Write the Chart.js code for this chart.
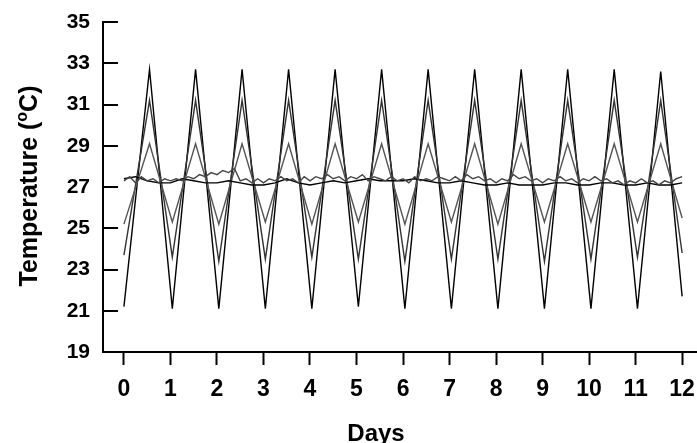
<!DOCTYPE html>
<html lang="en">
<head>
<meta charset="utf-8">
<title>Temperature over days</title>
<script src="https://cdn.jsdelivr.net/npm/chart.js"></script>
<style>
html, body { margin: 0; padding: 0; background: #fff; }
#chart { display: block; }
</style>
</head>
<body>
<canvas id="chart" width="697" height="443"></canvas>
<script>
// data
const dayTicks = [0, 1, 2, 3, 4, 5, 6, 7, 8, 9, 10, 11, 12];
const tempTicks = [19, 21, 23, 25, 27, 29, 31, 33, 35];

// turning points (troughs / peaks) of the three cycling series
const turnDays = [0, 0.55, 1.04, 1.54, 2.04, 2.54, 3.04, 3.54, 4.04, 4.54, 5.04, 5.54, 6.04,
  6.54, 7.04, 7.54, 8.04, 8.54, 9.04, 9.54, 10.04, 10.54, 11.04, 11.54, 12];
const bigTemps = [21.2, 32.7, 21.1, 32.7, 21.1, 32.7, 21.1, 32.7, 21.1, 32.7, 21.2, 32.7, 21.1,
  32.7, 21.1, 32.7, 21.1, 32.7, 21.1, 32.7, 21.1, 32.7, 21.1, 32.6, 21.7];
const midTemps = [23.7, 31.2, 23.6, 31.2, 23.4, 31.2, 23.5, 31.2, 23.6, 31.2, 23.5, 31.2, 23.4,
  31.2, 23.5, 31.2, 23.5, 31.2, 23.4, 31.2, 23.5, 31.2, 23.6, 31.2, 23.8];
const smallTemps = [25.2, 29.1, 25.3, 29.1, 25.2, 29.1, 25.3, 29.1, 25.2, 29.1, 25.3, 29.1, 25.2,
  29.1, 25.3, 29.1, 25.2, 29.1, 25.3, 29.1, 25.3, 29.1, 25.3, 29.1, 25.5];

// noisy near-constant series, every 3 hours
const noisyDays = [];
for (let i = 0; i <= 96; i++) noisyDays.push(i / 8);
const noisyTemps = [
  27.3, 27.5, 27.2, 27.5, 27.3, 27.4, 27.2, 27.4,
  27.3, 27.4, 27.3, 27.5, 27.4, 27.6, 27.5, 27.7,
  27.6, 27.8, 27.7, 27.9, 27.3, 27.4, 27.2, 27.4,
  27.2, 27.4, 27.3, 27.5, 27.3, 27.4, 27.2, 27.5,
  27.3, 27.5, 27.4, 27.6, 27.4, 27.5, 27.3, 27.5,
  27.4, 27.6, 27.3, 27.5, 27.4, 27.3, 27.5, 27.3,
  27.4, 27.2, 27.5, 27.3, 27.4, 27.3, 27.5, 27.4,
  27.3, 27.5, 27.3, 27.6, 27.4, 27.5, 27.3, 27.4,
  27.2, 27.4, 27.3, 27.6, 27.4, 27.5, 27.3, 27.4,
  27.2, 27.4, 27.3, 27.5, 27.3, 27.4, 27.2, 27.4,
  27.3, 27.5, 27.3, 27.4, 27.2, 27.3, 27.1, 27.3,
  27.2, 27.4, 27.2, 27.3, 27.1, 27.3, 27.2, 27.4,
  27.5];

// smoother near-constant series, every 6 hours
const smoothDays = [];
for (let i = 0; i <= 48; i++) smoothDays.push(i / 4);
const smoothTemps = [
  27.4, 27.5, 27.3, 27.2,
  27.2, 27.4, 27.3, 27.2,
  27.2, 27.3, 27.2, 27.1,
  27.1, 27.2, 27.4, 27.2,
  27.1, 27.2, 27.3, 27.2,
  27.3, 27.4, 27.3, 27.3,
  27.3, 27.4, 27.3, 27.2,
  27.2, 27.3, 27.2, 27.1,
  27.1, 27.2, 27.1, 27.1,
  27.1, 27.2, 27.2, 27.1,
  27.1, 27.2, 27.2, 27.1,
  27.1, 27.2, 27.1, 27.1,
  27.2];

const FONT = '"Liberation Sans", Arial, sans-serif';

function pts(xs, ys) { return xs.map((x, i) => ({ x: x, y: ys[i] })); }

function line(data, color) {
  return { data: data, borderColor: color, borderWidth: 1.4, pointRadius: 0, tension: 0, fill: false };
}

// y tick marks point into the plot, titles drawn by hand (superscript o)
const extras = {
  id: 'extras',
  afterDraw(chart) {
    const ctx = chart.ctx;
    const y = chart.scales.y;
    const left = chart.chartArea.left;
    ctx.save();
    ctx.strokeStyle = '#000';
    ctx.lineWidth = 2;
    tempTicks.forEach(t => {
      const py = Math.round(y.getPixelForValue(t));
      ctx.beginPath();
      ctx.moveTo(left, py);
      ctx.lineTo(left + 15, py);
      ctx.stroke();
    });

    ctx.fillStyle = '#000';
    ctx.textBaseline = 'alphabetic';
    ctx.font = 'bold 24px ' + FONT;
    ctx.textAlign = 'center';
    ctx.fillText('Days', 376, 441);

    // rotated y title
    const big = 'bold 25px ' + FONT;
    const sup = 'bold 16px ' + FONT;
    ctx.font = big;
    const w1 = ctx.measureText('Temperature (').width;
    const w3 = ctx.measureText('C)').width;
    ctx.font = sup;
    const w2 = ctx.measureText('o').width;
    const total = w1 + w2 + w3;
    ctx.translate(37, 186);
    ctx.rotate(-Math.PI / 2);
    ctx.textAlign = 'left';
    let x = -total / 2;
    ctx.font = big;
    ctx.fillText('Temperature (', x, 0);
    x += w1;
    ctx.font = sup;
    ctx.fillText('o', x, -10);
    x += w2;
    ctx.font = big;
    ctx.fillText('C)', x, 0);
    ctx.restore();
  }
};

new Chart(document.getElementById('chart'), {
  type: 'line',
  data: {
    datasets: [
      line(pts(noisyDays, noisyTemps), '#444'),
      line(pts(smoothDays, smoothTemps), '#000'),
      line(pts(turnDays, smallTemps), '#555'),
      line(pts(turnDays, midTemps), '#333'),
      line(pts(turnDays, bigTemps), '#000')
    ]
  },
  options: {
    responsive: false,
    animation: false,
    devicePixelRatio: 1,
    layout: { padding: { top: 22, left: 0, right: 0, bottom: 0 } },
    plugins: { legend: { display: false }, tooltip: { enabled: false } },
    scales: {
      x: {
        type: 'linear',
        min: -0.45,
        max: 12.32,
        afterBuildTicks: s => { s.ticks = dayTicks.map(v => ({ value: v })); },
        afterFit: s => { s.height = 91; s.paddingLeft = 0; s.paddingRight = 0; },
        border: { display: true, color: '#000', width: 2 },
        grid: { drawOnChartArea: false, drawTicks: true, tickLength: 13, tickWidth: 2, tickColor: '#000' },
        ticks: {
          color: '#000',
          padding: 11,
          maxRotation: 0,
          autoSkip: false,
          font: { family: FONT, size: 23, weight: 'bold' }
        }
      },
      y: {
        min: 19,
        max: 35,
        afterBuildTicks: s => { s.ticks = tempTicks.map(v => ({ value: v })); },
        afterFit: s => { s.width = 103; s.paddingTop = 0; s.paddingBottom = 0; },
        border: { display: true, color: '#000', width: 2 },
        grid: { drawOnChartArea: false, drawTicks: false },
        ticks: {
          color: '#000',
          padding: 13,
          autoSkip: false,
          font: { family: FONT, size: 21, weight: 'bold' }
        }
      }
    }
  },
  plugins: [extras]
});
</script>
</body>
</html>
